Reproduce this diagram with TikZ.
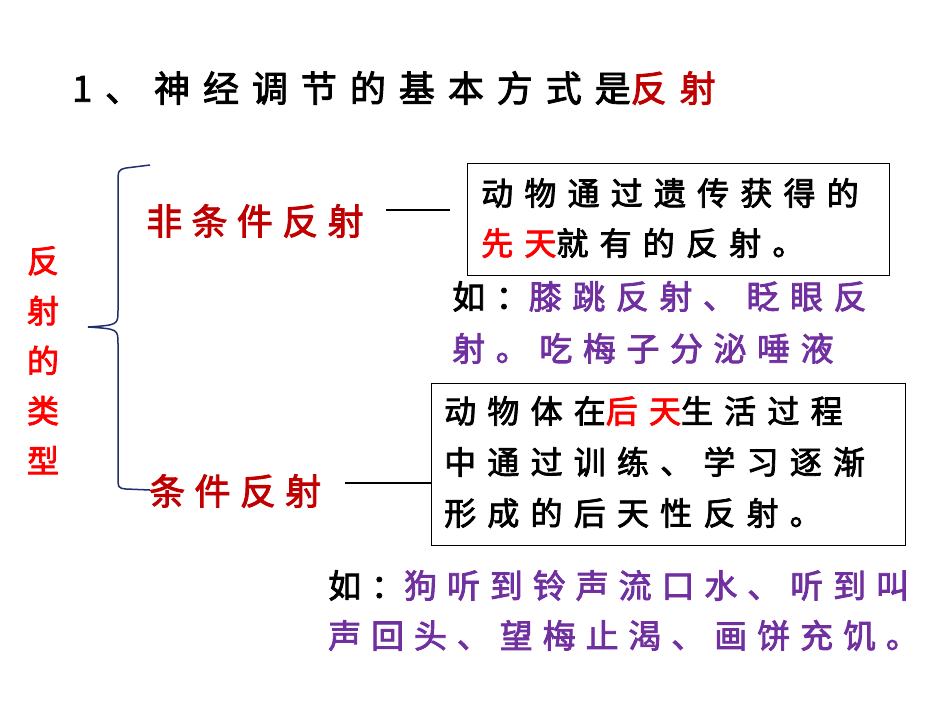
\documentclass[tikz,border=0pt]{standalone}
\usepackage{fontspec}
\newfontfamily\cjk{Noto Sans CJK SC}[FakeBold=2.5]
\newfontfamily\cjkB{Noto Sans CJK SC}[FakeBold=2.5,LetterSpace=35]
\newfontfamily\cjkT{Noto Sans CJK SC}[FakeBold=2.5,LetterSpace=36]
\newfontfamily\cjkP{Noto Sans CJK SC}[FakeBold=2.5,LetterSpace=32]
\newfontfamily\cjkQ{Noto Sans CJK SC}[FakeBold=2.5,LetterSpace=30]
\newfontfamily\cjkV{Noto Sans CJK SC}[FakeBold=2.5,LetterSpace=26]
\definecolor{dred}{HTML}{C00000}
\definecolor{pur}{HTML}{7030A0}
\definecolor{nav}{HTML}{1F2D6B}
\tikzset{txt/.style={anchor=west,inner sep=0pt},
 lbl/.style={txt,text=dred,font=\cjkV\fontsize{36}{40}\selectfont},
 bx/.style={draw=black,line width=0.8pt,rectangle}}
\begin{document}
\begin{tikzpicture}[x=1pt,y=-1pt]
\useasboundingbox (0,0) rectangle (950,713);
\node[txt,font=\cjkT\fontsize{36}{40}\selectfont] (title) at (72,88) {1、神经调节的基本方式是\textcolor{dred}{反射}};
\node[anchor=north,inner sep=0pt,text=red,font=\cjk\fontsize{32}{50}\selectfont,align=center] (vert) at (43,246) {反\\射\\的\\类\\型};
\node[lbl] (unc) at (146,221) {非条件反射};
\node[lbl] (con) at (149,491) {条件反射};
\draw[nav,line width=1.5pt] (150,165) -- (126,168) .. controls (118,170) .. (118,185) -- (118,310) .. controls (118,325) .. (88,327) .. controls (118,329) .. (118,344) -- (118,475) .. controls (118,488) .. (126,489) -- (150,490);
\node[bx,minimum width=422,minimum height=112,anchor=north west] (b1) at (467,163) {};
\node[txt,font=\cjkB\fontsize{32}{50}\selectfont,align=left,anchor=north west] (t1) at (481,178) {动物通过遗传获得的\\\textcolor{red}{先天}就有的反射。};
\draw[line width=1.3pt] (386,210) -- (450,210);
\node[txt,font=\cjkP\fontsize{33}{52}\selectfont,align=left,anchor=north west,text=pur] (p1) at (452,281) {\textcolor{black}{如：}膝跳反射、眨眼反\\射。吃梅子分泌唾液};
\node[bx,minimum width=474,minimum height=162,anchor=north west] (b2) at (431,383) {};
\node[txt,font=\cjkB\fontsize{32}{51}\selectfont,align=left,anchor=north west] (t2) at (444,396) {动物体在\textcolor{red}{后天}生活过程\\中通过训练、学习逐渐\\形成的后天性反射。};
\draw[line width=1.3pt] (345,483) -- (432,483);
\node[txt,font=\cjkQ\fontsize{33}{50}\selectfont,align=left,anchor=north west,text=pur] (p2) at (328,570) {\textcolor{black}{如：}狗听到铃声流口水、听到叫\\声回头、望梅止渴、画饼充饥。};
\end{tikzpicture}
\end{document}
